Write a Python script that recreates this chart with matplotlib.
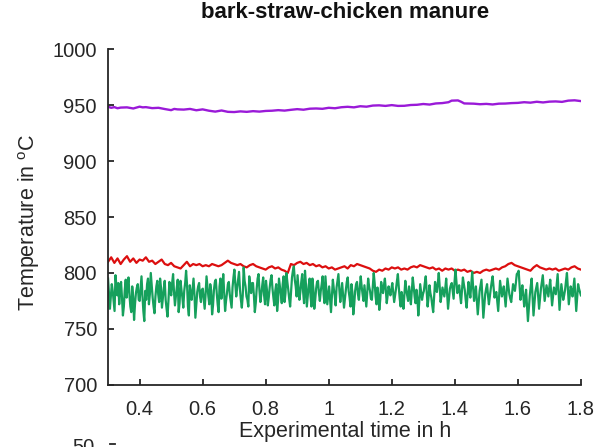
import numpy as np
import matplotlib
matplotlib.use("Agg")
import matplotlib.pyplot as plt
from matplotlib.lines import Line2D

# purple series (upper thermocouple)
purple_t = [0.30, 0.31, 0.32, 0.33, 0.34, 0.36, 0.38, 0.40, 0.41, 0.42, 0.44, 0.46, 0.48, 0.50, 0.51,
            0.52, 0.54, 0.56, 0.58, 0.60, 0.62, 0.64, 0.66, 0.68, 0.70, 0.72, 0.74, 0.76, 0.78, 0.80,
            0.82, 0.84, 0.86, 0.88, 0.90, 0.92, 0.94, 0.96, 0.98, 1.00, 1.02, 1.04, 1.06, 1.08, 1.10,
            1.12, 1.14, 1.16, 1.18, 1.20, 1.22, 1.24, 1.26, 1.28, 1.30, 1.32, 1.34, 1.36, 1.38, 1.39,
            1.41, 1.42, 1.43, 1.46, 1.48, 1.50, 1.52, 1.54, 1.56, 1.58, 1.60, 1.62, 1.64, 1.66, 1.68,
            1.70, 1.72, 1.74, 1.76, 1.78, 1.80]
purple_T = [948.5, 947.6, 948.2, 947.2, 947.8, 948, 947, 948.6, 948, 948.2, 947.3, 947.6, 946.5, 945.5, 946.6,
            946.2, 946, 946.6, 945.4, 946.2, 945, 944.2, 945.2, 944, 943.8, 944.4, 944, 944.6, 944.2, 944.8,
            945, 945.5, 945.1, 945.8, 946.4, 945.9, 946.8, 947, 946.7, 947.6, 947.2, 948.1, 948.5, 948, 949,
            948.6, 949.6, 949.8, 949.3, 950, 949.3, 949.4, 950.1, 950.3, 951, 950.5, 951.5, 951.8, 952.6, 954,
            954.2, 953, 951.5, 951.3, 950.8, 951.1, 950.6, 951.3, 951.4, 951.8, 952, 952.6, 952.2, 953, 952.4,
            953.1, 953.3, 952.9, 954, 954.3, 953.6]

# red series (middle thermocouple), 0.01 h steps
red_t = np.round(np.arange(0.30, 1.805, 0.01), 2)
red_T = [810, 814, 809, 813, 808, 812, 815, 810, 813, 809, 812,
         811, 814, 810, 811, 808, 810, 812, 808, 807, 809,
         806, 805, 804, 807, 810, 806, 808, 807, 808, 806,
         807, 806, 808, 807, 806, 807, 809, 811, 809, 808,
         807, 808, 806, 805, 807, 808, 806, 805, 804, 803,
         805, 806, 804, 805, 803, 802, 800, 808, 807, 809,
         810, 808, 809, 807, 808, 806, 807, 805, 806, 804,
         805, 803, 804, 805, 806, 804, 807, 806, 808, 807,
         806, 805, 804, 802, 801, 803, 802, 804, 803, 805,
         804, 805, 803, 804, 803, 805, 806, 805, 807, 806,
         805, 804, 805, 803, 804, 802, 804, 803, 804, 802,
         803, 802, 803, 801, 802, 800, 801, 800, 802, 803,
         802, 803, 804, 803, 805, 806, 808, 809, 807, 806,
         805, 804, 803, 802, 805, 807, 805, 804, 803, 804,
         803, 804, 802, 803, 804, 803, 805, 806, 804, 803]

# green series (noisy lower thermocouple), 34 readings per 0.1 h
green_T = [
    795, 781, 768, 779, 790, 784, 775, 766, 798, 788, 780, 791, 772, 785, 792, 778, 762,
    770, 785, 794, 778, 788, 796, 781, 770, 765, 788, 779, 758, 772, 782, 787, 790, 776,
    775, 786, 797, 780, 766, 757, 784, 776, 790, 795, 772, 781, 800, 789, 778, 770, 764,
    779, 788, 793, 781, 774, 795, 787, 769, 778, 786, 793, 776, 768, 761, 775, 792, 784,
    780, 791, 799, 783, 771, 779, 787, 794, 765, 773, 793, 785, 778, 769, 784, 791, 802,
    790, 770, 762, 789, 781, 776, 786, 795, 781, 760, 772, 783, 788, 791, 779, 774, 785,
    786, 777, 768, 781, 797, 788, 779, 772, 790, 784, 763, 771, 785, 792, 794, 782, 772,
    765, 788, 795, 777, 786, 799, 783, 766, 775, 782, 790, 792, 781, 775, 769, 787, 796,
    803, 790, 779, 787, 794, 801, 785, 776, 769, 780, 805, 793, 788, 779, 776, 770, 797,
    789, 782, 791, 791, 780, 765, 773, 786, 795, 799, 784, 774, 781, 789, 796, 780, 772,
    793, 785, 771, 778, 787, 794, 798, 786, 778, 771, 784, 790, 766, 775, 795, 788, 781,
    773, 790, 797, 774, 782, 800, 792, 785, 777, 770, 783, 796, 802, 806, 794, 788, 779,
    798, 787, 776, 783, 792, 799, 783, 773, 802, 790, 770, 779, 789, 795, 779, 770, 795,
    786, 768, 776, 786, 792, 793, 782, 775, 784, 790, 797, 781, 773, 797, 785, 772, 780,
    788, 776, 765, 779, 794, 786, 780, 771, 787, 793, 799, 785, 774, 783, 791, 780, 769,
    777, 785, 792, 796, 784, 778, 770, 790, 783, 763, 772, 784, 790, 792, 781, 776, 787,
    797, 788, 781, 775, 789, 779, 770, 782, 795, 788, 784, 777, 776, 788, 800, 791, 779,
    772, 787, 780, 767, 776, 792, 786, 782, 789, 795, 785, 773, 780, 788, 783, 780, 786,
    791, 782, 774, 780, 786, 793, 799, 787, 777, 770, 783, 778, 768, 781, 793, 785, 780,
    775, 788, 781, 772, 784, 796, 788, 779, 773, 785, 777, 762, 774, 790, 783, 776, 781,
    784, 791, 797, 783, 770, 778, 789, 782, 778, 771, 765, 779, 792, 787, 783, 791, 800,
    788, 774, 780, 787, 783, 779, 786, 795, 781, 768, 777, 786, 789, 791, 784, 777, 792,
    803, 792, 782, 786, 789, 780, 773, 785, 796, 790, 785, 776, 769, 781, 792, 784, 778,
    789, 801, 787, 775, 781, 788, 775, 763, 773, 784, 789, 794, 777, 760, 770, 781, 786,
    790, 780, 772, 779, 786, 792, 797, 787, 778, 781, 783, 774, 766, 780, 793, 786, 779,
    783, 788, 779, 770, 783, 795, 788, 781, 777, 774, 782, 790, 787, 784, 791, 799, 800,
    802, 789, 776, 783, 789, 779, 770, 778, 785, 771, 757, 768, 780, 788, 795, 778, 762,
    772, 783, 787, 791, 779, 768, 777, 786, 792, 798, 786, 775, 782, 789, 784, 779, 787,
    794, 782, 771, 779, 787, 784, 781, 790, 799, 783, 767, 778, 790, 783, 776, 780, 785,
    793, 800, 786, 772, 780, 788, 784, 779, 787, 795, 780, 766, 778, 790, 786, 783, 780,
]
green_t = np.linspace(0.30, 1.80, len(green_T))

x_ticks = [0.4, 0.6, 0.8, 1.0, 1.2, 1.4, 1.6, 1.8]
x_labels = ["0.4", "0.6", "0.8", "1", "1.2", "1.4", "1.6", "1.8"]
y_ticks = [700, 750, 800, 850, 900, 950, 1000]

plt.rcParams["font.family"] = ["Liberation Sans", "DejaVu Sans"]
plt.rcParams["mathtext.fontset"] = "custom"
plt.rcParams["mathtext.rm"] = "Liberation Sans"
plt.rcParams["mathtext.it"] = "Liberation Sans"

txt = "#262626"
fig = plt.figure(figsize=(5.97, 4.47), dpi=100)
ax = fig.add_axes([0.181, 0.139, 0.792, 0.751])

ax.plot(purple_t, purple_T, color="#9a1ad8", lw=1.7)
ax.plot(red_t, red_T, color="#dc0f0f", lw=1.6)
ax.plot(green_t, green_T, color="#16a05c", lw=1.6)

ax.set_xlim(0.3, 1.8)
ax.set_ylim(700, 1000)
ax.set_xticks(x_ticks)
ax.set_xticklabels(x_labels)
ax.set_yticks(y_ticks)
for s in ["top", "right"]:
    ax.spines[s].set_visible(False)
for s in ["left", "bottom"]:
    ax.spines[s].set_color(txt)
    ax.spines[s].set_linewidth(1.3)
ax.tick_params(direction="in", length=4, width=1.3, colors=txt, labelsize=14.5)
ax.tick_params(axis="x", pad=11)
ax.tick_params(axis="y", pad=8)

fig.text(0.578, 0.972, "bark-straw-chicken manure", ha="center", va="center",
         fontsize=16, fontweight="bold", color="#111111")
fig.text(0.578, 0.034, "Experimental time in h", ha="center", va="center",
         fontsize=15.5, color=txt)
fig.text(0.048, 0.503, r"Temperature in $^{\mathrm{o}}$C", ha="center", va="center",
         rotation=90, fontsize=15.5, color=txt)

# top of the next panel, cut off at the bottom edge
fig.text(0.158, 1 - 438 / 447, "50", ha="right", va="top", fontsize=14.5, color=txt)
fig.add_artist(Line2D([0.184, 0.193], [1 - 444 / 447] * 2, transform=fig.transFigure,
                      color=txt, lw=1.3))

fig.savefig("out.png", dpi=100)
